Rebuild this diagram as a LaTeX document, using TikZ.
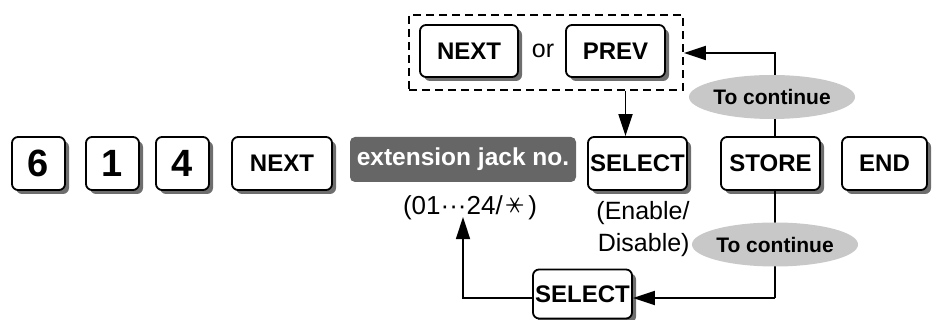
\documentclass[tikz,border=0pt]{standalone}
\usepackage{fontspec}
\setmainfont{Liberation Sans}
\newfontfamily\cjkfont{Noto Sans CJK JP}
\usetikzlibrary{arrows.meta,shapes.geometric,shadows}
\definecolor{keyshadow}{HTML}{6E6E6E}
\definecolor{jackgray}{HTML}{666666}
\definecolor{ovalgray}{HTML}{C8C8C8}
\begin{document}
\begin{tikzpicture}[x=1pt,y=-1pt,
		key/.style={draw,line width=1.8pt,rounded corners=6pt,fill=white,
			minimum height=53pt,inner sep=0pt,font=\bfseries\fontsize{24}{26}\selectfont,
			drop shadow={shadow xshift=4pt,shadow yshift=-4pt,fill=keyshadow,opacity=1}},
		digit/.style={key,minimum width=53pt,font=\bfseries\fontsize{38}{40}\selectfont},
		oval/.style={ellipse,fill=ovalgray,minimum width=143pt,minimum height=44pt,
			inner sep=0pt,font=\bfseries\fontsize{21}{24}\selectfont},
		arr/.style={line width=1.8pt,-{Triangle[length=22pt,width=14pt]}},
		line/.style={line width=1.8pt}]
		\useasboundingbox (0,0) rectangle (935,320);
		
		\node[digit] (k6) at (38.5,163.5) {6};
		\node[digit] (k1) at (112.5,163.5) {1};
		\node[digit] (k4) at (182.5,163.5) {4};
		\node[key,minimum width=100pt] (next) at (282,163.5) {NEXT};
		
		\node[fill=jackgray,rounded corners=5pt,text=white,minimum width=226pt,minimum height=45pt,
			inner sep=0pt,font=\bfseries\fontsize{24.5}{26}\selectfont] (jack) at (463,159.5) {extension jack no.};
		\node[font=\fontsize{26}{28}\selectfont,inner sep=0pt] (range) at (470,207)
			{(01···24/\,\raisebox{1pt}{\rotatebox[origin=c]{90}{\cjkfont\fontsize{22}{24}\selectfont ＊}}\,)};
		
		\node[key,minimum width=99pt] (select) at (637.5,163.5) {SELECT};
		\node[key,minimum width=99pt] (store) at (770.5,163.5) {STORE};
		\node[key,minimum width=85pt] (end) at (884.5,163.5) {END};
		\node[align=right,font=\fontsize{25}{32}\selectfont,inner sep=0pt] (enable) at (643,229)
			{(Enable/\\Disable)};
		
		% dashed group on top
		\node[draw,line width=1.8pt,dash pattern=on 8pt off 5pt,minimum width=274pt,
			minimum height=75pt,inner sep=0pt] (grp) at (546,52.5) {};
		\node[key,minimum width=98pt,minimum height=52pt] (nexttop) at (469,51) {NEXT};
		\node[font=\fontsize{25}{26}\selectfont] (or) at (543,51) {or};
		\node[key,minimum width=99pt,minimum height=52pt] (prev) at (615.5,51) {PREV};
		
		% loops
		\coordinate (up) at (775,53);
		\coordinate (down) at (775,298);
		\coordinate (back) at (463,298);
		\draw[arr] ([xshift=-12pt]select.north |- grp.south) -- ([xshift=-12pt]select.north);
		\draw[arr] (up |- store.north) -- (up) -- (grp.east |- up);
		\draw[line] (up |- store.south) -- (down);
		\node[oval] (cont1) at (772,97) {To continue};
		\node[oval] (cont2) at (775,244.5) {To continue};
		\node[key,minimum width=99pt,minimum height=49pt] (select2) at (582.5,294) {SELECT};
		\draw[arr] (down) -- (select2.east |- down);
		\draw[arr] (select2.west |- back) -- (back) -- ([yshift=3pt]back |- range.south);
	\end{tikzpicture}
\end{document}
